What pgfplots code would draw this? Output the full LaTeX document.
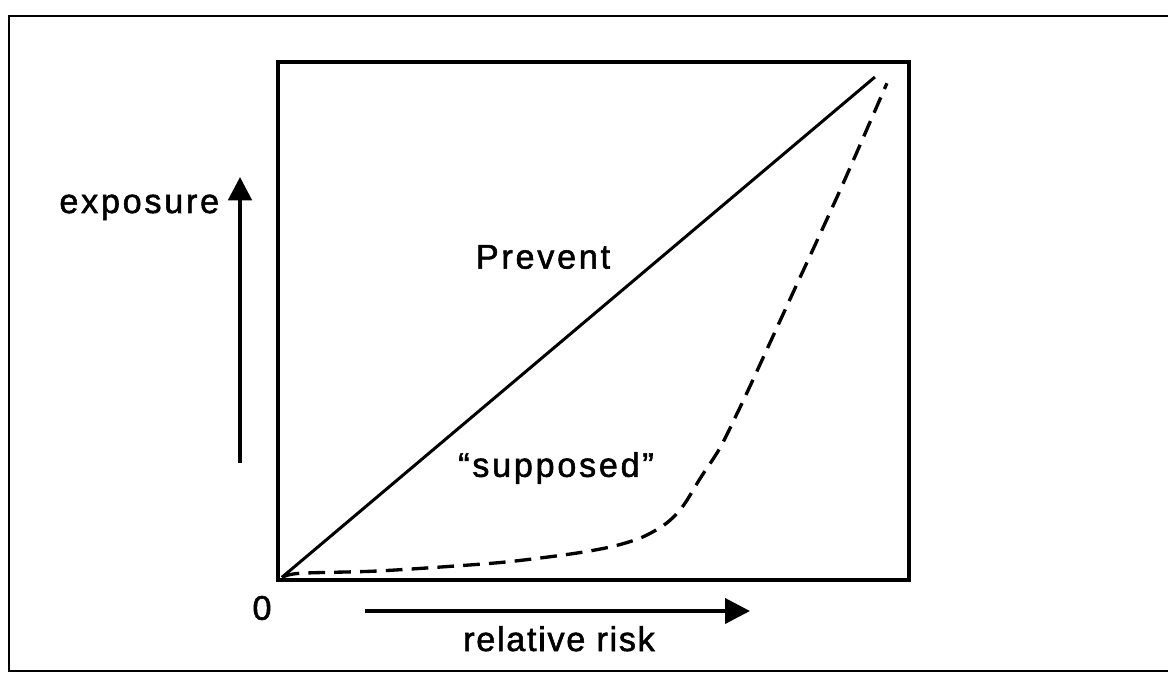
\documentclass[border=0pt]{standalone}
\usepackage{pgfplots}
\pgfplotsset{compat=1.18}
\usepackage{fontspec}
\setmainfont{Liberation Sans}[LetterSpace=8, FakeBold=1.6]
\usetikzlibrary{arrows.meta}
\begin{document}
\begin{tikzpicture}[x=0.6pt,y=0.6pt]
\useasboundingbox (0,0) rectangle (1168,673);
% outer frame (open on the right, as in the scan)
\draw[line width=1.3pt] (1168,657) -- (9,657) -- (9,2) -- (1168,2);
\begin{axis}[
  at={(166.8pt,55.8pt)}, anchor=south west,
  width=378.6pt, height=310.8pt, scale only axis,
  xmin=0, xmax=100, ymin=0, ymax=100,
  ticks=none, clip=false,
  axis line style={line width=2pt},
]
\addplot[black, line width=1.8pt] coordinates {(0.6,0.5) (94.6,97.1)};
\addplot[black, line width=2pt, dash pattern=on 10pt off 5.5pt, smooth, tension=0.5] coordinates {
(0.8,0.6) (3.5,1.3) (15.1,1.7) (25.7,2.5) (36.3,3.5) (46.8,5.1) (53.1,6.5)
(57.8,8.3) (61.6,11.0) (64.2,14.3) (66.9,19.6) (70.0,25.4) (72.7,32.0)
(75.1,38.2) (81.1,54.1) (89.1,75.3) (96.5,95.9)};
\end{axis}
% annotation arrows
\draw[line width=2.4pt, -{Triangle[length=14pt,width=14pt]}] (240,210) -- (240,496);
\draw[line width=2.4pt, -{Triangle[length=15pt,width=15pt]}] (365,62) -- (750,62);
% texts
\node[font=\fontsize{20.5}{24}\selectfont] at (543,416) {Prevent};
\node[font=\fontsize{20.5}{24}\selectfont] at (556,205) {“supposed”};
\node[font=\fontsize{20.5}{24}\selectfont, anchor=base east] at (225,460) {exposure};
\node[font=\fontsize{20.5}{24}\selectfont] at (262,65) {0};
\node[font=\fontsize{20.5}{24}\selectfont\addfontfeatures{LetterSpace=5}, anchor=base] at (559,22) {relative risk};
\end{tikzpicture}
\end{document}
